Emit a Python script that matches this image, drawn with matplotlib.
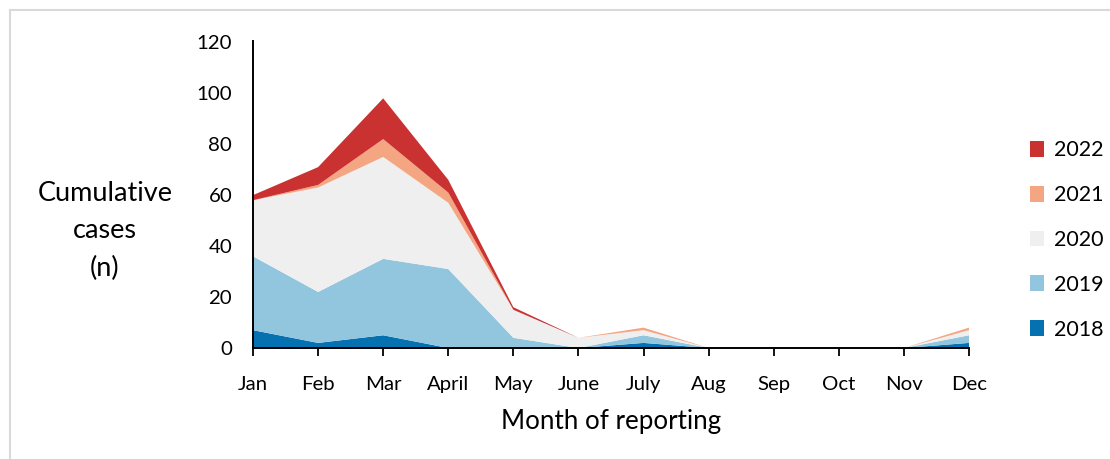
import matplotlib
matplotlib.use("Agg")
import matplotlib.pyplot as plt
from matplotlib.patches import Patch
from matplotlib.lines import Line2D
import numpy as np

months = ["Jan", "Feb", "Mar", "April", "May", "June", "July", "Aug", "Sep", "Oct", "Nov", "Dec"]
years = ["2018", "2019", "2020", "2021", "2022"]
cases_2018 = [7, 2, 5, 0, 0, 0, 2, 0, 0, 0, 0, 2]
cases_2019 = [29, 20, 30, 31, 4, 0, 3, 0, 0, 0, 0, 3]
cases_2020 = [22, 41, 40, 26, 11, 4, 2, 0, 0, 0, 0, 2]
cases_2021 = [0, 1, 7, 4, 0, 0, 1, 0, 0, 0, 0, 1]
cases_2022 = [2, 7, 16, 5, 1, 0, 0, 0, 0, 0, 0, 0]
colors = ["#0571B0", "#92C5DE", "#EFEFEF", "#F4A582", "#CA3232"]
yticks = [0, 20, 40, 60, 80, 100, 120]

plt.rcParams['font.family'] = ['Lato', 'DejaVu Sans']

W, H = 1110, 459
fig = plt.figure(figsize=(W / 100, H / 100), dpi=100)
ax = fig.add_axes([253 / W, 1 - 348 / H, (969 - 253) / W, (348 - 41) / H])

x = np.arange(len(months))
series = [cases_2018, cases_2019, cases_2020, cases_2021, cases_2022]
ax.stackplot(x, *series, colors=colors, linewidth=0, labels=years)

ax.set_xlim(0, len(months) - 1)
ax.set_ylim(0, 120.5)
ax.set_yticks(yticks)
ax.set_xticks(x)
ax.set_xticklabels(months)
ax.tick_params(axis='y', length=0, labelsize=14.7, pad=15)
ax.tick_params(axis='x', length=6, width=1.3, direction='out', labelsize=14.7, pad=14)
for s in ['top', 'right']:
    ax.spines[s].set_visible(False)
for s in ['left', 'bottom']:
    ax.spines[s].set_linewidth(1.4)
    ax.spines[s].set_color('black')

ax.set_xlabel("Month of reporting", fontsize=18.7, labelpad=12)
fig.text(105 / W, 1 - 231 / H, "Cumulative\ncases\n(n)", ha='center', va='center',
         fontsize=19.5, linespacing=1.6)

handles = [Patch(facecolor=c, edgecolor='none') for c in colors][::-1]
fig.legend(handles, years[::-1], loc='center left', bbox_to_anchor=(1030 / W, 1 - 240 / H),
           frameon=False, fontsize=15.5, handlelength=0.65, handleheight=0.75,
           handletextpad=0.45, labelspacing=1.15, borderpad=0, borderaxespad=0)

# light grey frame around the figure (top and left edges visible)
fig.add_artist(Line2D([10 / W, 1], [1 - 10 / H, 1 - 10 / H], transform=fig.transFigure,
                      color='#D9D9D9', linewidth=1.5))
fig.add_artist(Line2D([10 / W, 10 / W], [0, 1 - 10 / H], transform=fig.transFigure,
                      color='#D9D9D9', linewidth=1.5))

fig.savefig("out.png", dpi=100)
